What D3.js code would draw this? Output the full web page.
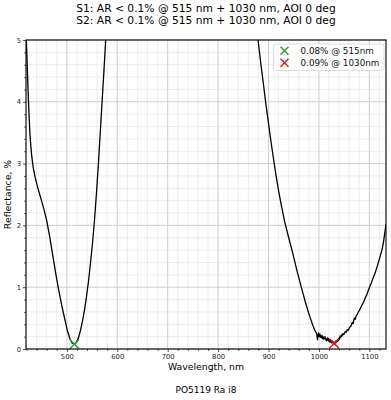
<!DOCTYPE html>
<html>
<head>
<meta charset="utf-8">
<script src="https://cdn.jsdelivr.net/npm/d3@7"></script>
<style>
  html, body { margin: 0; padding: 0; background: #fff; }
  svg { display: block; font-family: "DejaVu Sans", sans-serif; }
</style>
</head>
<body>
<svg id="chart" width="391" height="400"></svg>
<script>
// ---- data ----
const titleLines = ["S1: AR < 0.1% @ 515 nm + 1030 nm, AOI 0 deg", "S2: AR < 0.1% @ 515 nm + 1030 nm, AOI 0 deg"];
const xLabel = "Wavelength, nm";
const yLabel = "Reflectance, %";
const footnote = "PO5119 Ra i8";
const xTicks = [500, 600, 700, 800, 900, 1000, 1100];
const yTicks = [0, 1, 2, 3, 4, 5];

const wavelengths = [
  419, 421, 423, 425, 427, 430, 433, 437, 442, 448, 454, 460, 466, 472, 478, 484, 490, 496, 501, 506, 510, 515,
  519, 523, 527, 531, 535, 539, 543, 547, 551, 555, 559, 563, 567, 571, 575, 578, 582, 590, 600, 650, 700, 750,
  800, 850, 870, 876, 880, 885, 890, 895, 900, 905, 910, 915, 920, 926, 932, 940, 948, 956, 965, 973, 982, 988,
  990, 992, 994, 995, 996, 997, 998, 999, 1000, 1001, 1002, 1003, 1004, 1005, 1006, 1007, 1008, 1009, 1010,
  1011, 1012, 1013, 1014, 1015, 1016, 1017, 1018, 1019, 1020, 1021, 1022, 1023, 1024, 1025, 1026, 1027, 1028,
  1029, 1030, 1031, 1032, 1033, 1034, 1035, 1036, 1037, 1038, 1039, 1040, 1041, 1042, 1043, 1044, 1045, 1046,
  1047, 1048, 1050, 1052, 1054, 1056, 1058, 1060, 1062, 1064, 1066, 1068, 1070, 1072, 1074, 1076, 1078, 1080,
  1083, 1086, 1089, 1092, 1095, 1098, 1101, 1104, 1107, 1110, 1113, 1116, 1119, 1122, 1125, 1128, 1131, 1133
];
const reflectance = [
  5.15, 4.7, 4.2, 3.8, 3.45, 3.15, 2.95, 2.78, 2.62, 2.45, 2.28, 2.08, 1.82, 1.52, 1.22, 0.95, 0.7, 0.48, 0.3, 0.17, 0.1, 0.08,
  0.11, 0.18, 0.3, 0.45, 0.63, 0.85, 1.1, 1.4, 1.72, 2.1, 2.55, 3.05, 3.6, 4.15, 4.7, 5.15, 5.8, 7.0, 8.5, 12, 13, 12,
  10, 7, 5.6, 5.2, 4.95, 4.6, 4.28, 3.95, 3.65, 3.35, 3.07, 2.8, 2.56, 2.3, 2.06, 1.8, 1.55, 1.28, 1.0, 0.76, 0.52, 0.38,
  0.34, 0.3, 0.27, 0.25, 0.22, 0.15, 0.19, 0.26, 0.22, 0.2, 0.24, 0.19, 0.21, 0.18, 0.22, 0.17, 0.2, 0.16, 0.19,
  0.17, 0.2, 0.15, 0.17, 0.13, 0.16, 0.18, 0.14, 0.17, 0.12, 0.15, 0.11, 0.14, 0.12, 0.1, 0.13, 0.1, 0.12,
  0.09, 0.1, 0.08, 0.11, 0.1, 0.13, 0.11, 0.14, 0.13, 0.16, 0.14, 0.18, 0.16, 0.21, 0.19, 0.22, 0.2, 0.24,
  0.22, 0.25, 0.24, 0.28, 0.27, 0.31, 0.3, 0.34, 0.36, 0.38, 0.43, 0.41, 0.5, 0.48, 0.54, 0.56, 0.6, 0.62,
  0.67, 0.72, 0.77, 0.83, 0.88, 0.95, 1.01, 1.07, 1.14, 1.2, 1.27, 1.35, 1.43, 1.52, 1.6, 1.73, 1.9, 2.02
];

const markerWavelengths = [515, 1030];
const markerValues = [0.08, 0.09];
const markerLabels = ["0.08% @ 515nm", "0.09% @ 1030nm"];
const markerColors = ["#2ca02c", "#e8141b"];

// ---- layout ----
const W = 391, H = 400;
const m = { left: 26, right: 5, top: 40, bottom: 51 };
const svg = d3.select("#chart");
const x = d3.scaleLinear().domain([419, 1133]).range([m.left, W - m.right]);
const y = d3.scaleLinear().domain([0, 5]).range([H - m.bottom, m.top]);

const xMinor = d3.range(420, 1133, 20).filter(v => v % 100 !== 0);
const yMinor = d3.range(0, 5.001, 0.2).map(v => +v.toFixed(1)).filter(v => Math.abs(v - Math.round(v)) > 1e-6);

// grid
const grid = svg.append("g");
grid.selectAll(".gxm").data(xMinor).join("line")
  .attr("x1", d => x(d)).attr("x2", d => x(d)).attr("y1", y(0)).attr("y2", y(5))
  .attr("stroke", "#e8e8e8").attr("stroke-width", 0.8);
grid.selectAll(".gym").data(yMinor).join("line")
  .attr("x1", x.range()[0]).attr("x2", x.range()[1]).attr("y1", d => y(d)).attr("y2", d => y(d))
  .attr("stroke", "#e8e8e8").attr("stroke-width", 0.8);
grid.selectAll(".gxM").data(xTicks).join("line")
  .attr("x1", d => x(d)).attr("x2", d => x(d)).attr("y1", y(0)).attr("y2", y(5))
  .attr("stroke", "#c8c8c8").attr("stroke-width", 0.9);
grid.selectAll(".gyM").data(yTicks).join("line")
  .attr("x1", x.range()[0]).attr("x2", x.range()[1]).attr("y1", d => y(d)).attr("y2", d => y(d))
  .attr("stroke", "#c8c8c8").attr("stroke-width", 0.9);

// clip
svg.append("clipPath").attr("id", "clip").append("rect")
  .attr("x", m.left).attr("y", m.top).attr("width", W - m.left - m.right).attr("height", H - m.top - m.bottom);

const pts = wavelengths.map((w, i) => [w, reflectance[i]]);
const line = d3.line().x(d => x(d[0])).y(d => y(d[1]));
svg.append("path").datum(pts).attr("clip-path", "url(#clip)")
  .attr("d", line).attr("fill", "none").attr("stroke", "#000").attr("stroke-width", 1.3)
  .attr("stroke-linejoin", "round");

// markers
function drawX(g, cx, cy, r, color) {
  g.append("line").attr("x1", cx - r).attr("y1", cy - r).attr("x2", cx + r).attr("y2", cy + r)
    .attr("stroke", color).attr("stroke-width", 1.5);
  g.append("line").attr("x1", cx - r).attr("y1", cy + r).attr("x2", cx + r).attr("y2", cy - r)
    .attr("stroke", color).attr("stroke-width", 1.5);
}
const mk = svg.append("g");
markerWavelengths.forEach((w, i) => drawX(mk, x(w), y(markerValues[i]), 4.6, markerColors[i]));

// axes
const fontTick = 6.8;
const xAxis = svg.append("g").attr("transform", `translate(0,${y(0)})`)
  .call(d3.axisBottom(x).tickValues(xTicks).tickSize(3).tickPadding(2).tickFormat(d3.format("d")));
const xAxisMinor = svg.append("g").attr("transform", `translate(0,${y(0)})`)
  .call(d3.axisBottom(x).tickValues(xMinor).tickSize(1.8).tickFormat(""));
const yAxis = svg.append("g").attr("transform", `translate(${x.range()[0]},0)`)
  .call(d3.axisLeft(y).tickValues(yTicks).tickSize(3).tickPadding(2).tickFormat(d3.format("d")));
const yAxisMinor = svg.append("g").attr("transform", `translate(${x.range()[0]},0)`)
  .call(d3.axisLeft(y).tickValues(yMinor).tickSize(1.8).tickFormat(""));
[xAxis, xAxisMinor, yAxis, yAxisMinor].forEach(a => {
  a.select(".domain").remove();
  a.selectAll("line").attr("stroke", "#000").attr("stroke-width", 0.7);
  a.selectAll("text").attr("font-size", fontTick).attr("fill", "#222").attr("font-family", "DejaVu Sans");
});

// frame
svg.append("rect").attr("x", m.left).attr("y", m.top)
  .attr("width", W - m.left - m.right).attr("height", H - m.top - m.bottom)
  .attr("fill", "none").attr("stroke", "#000").attr("stroke-width", 1.1);

// legend
const lg = svg.append("g");
lg.append("rect").attr("x", 273.5).attr("y", 44).attr("width", 110.5).attr("height", 26.5).attr("rx", 2)
  .attr("fill", "#fff").attr("fill-opacity", 0.85).attr("stroke", "#d5d5d5").attr("stroke-width", 0.8);
markerLabels.forEach((t, i) => {
  const cy = 50.8 + i * 12;
  drawX(lg, 284.5, cy, 4, markerColors[i]);
  lg.append("text").attr("x", 300.5).attr("y", cy + 3.2).attr("font-size", 8.8).attr("fill", "#111").text(t);
});

// titles and labels
const cx = (x.range()[0] + x.range()[1]) / 2;
titleLines.forEach((t, i) => {
  svg.append("text").attr("x", cx).attr("y", 11.5 + i * 12.2).attr("text-anchor", "middle")
    .attr("font-size", 10.7).attr("fill", "#000").text(t);
});
svg.append("text").attr("x", cx).attr("y", 370).attr("text-anchor", "middle")
  .attr("font-size", 9.3).attr("fill", "#000").text(xLabel);
svg.append("text").attr("transform", `translate(11,${(y(0) + y(5)) / 2}) rotate(-90)`).attr("text-anchor", "middle")
  .attr("font-size", 9.3).attr("fill", "#000").text(yLabel);
svg.append("text").attr("x", cx).attr("y", 393).attr("text-anchor", "middle")
  .attr("font-size", 9.0).attr("fill", "#000").text(footnote);
</script>
</body>
</html>
